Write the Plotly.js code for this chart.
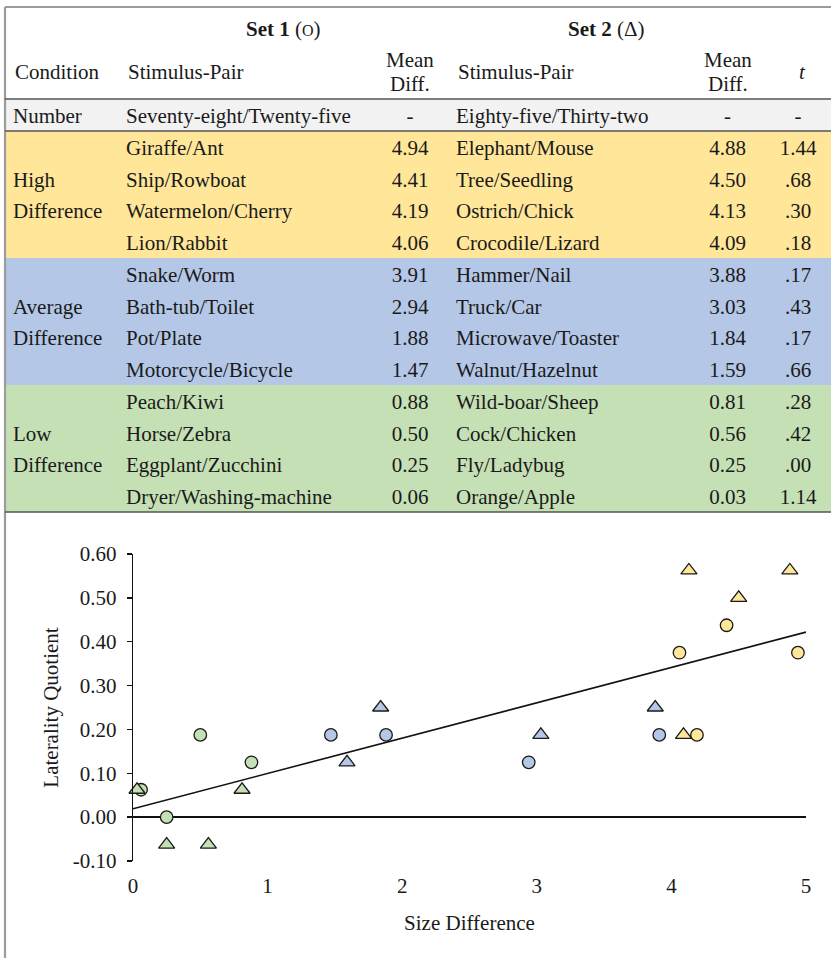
<!DOCTYPE html>
<html>
<head>
<meta charset="utf-8">
<script src="https://cdn.plot.ly/plotly-3.0.1.min.js"></script>
<style>
html, body { margin: 0; padding: 0; background: #ffffff; }
#chart { width: 831px; height: 958px; }
</style>
</head>
<body>
<div id="chart"></div>
<script>
// ---------------- data ----------------
const groupNames = ["High", "Average", "Low"];
const groupOfRow = [0, 0, 0, 0, 1, 1, 1, 1, 2, 2, 2, 2];
const conditionCol = ["", "High", "Difference", "", "", "Average", "Difference", "", "", "Low", "Difference", ""];
const columnHeaders = ["Condition", "Stimulus-Pair", "Mean Diff.", "Stimulus-Pair", "Mean Diff.", "t"];
const setHeaders = ["Set 1", "Set 2"];
const setSymbols = ["O", "\u0394"];
const numberRow = ["Number", "Seventy-eight/Twenty-five", "-", "Eighty-five/Thirty-two", "-", "-"];
const set1Pairs = ["Giraffe/Ant", "Ship/Rowboat", "Watermelon/Cherry", "Lion/Rabbit", "Snake/Worm", "Bath-tub/Toilet", "Pot/Plate", "Motorcycle/Bicycle", "Peach/Kiwi", "Horse/Zebra", "Eggplant/Zucchini", "Dryer/Washing-machine"];
const set1Diff = [4.94, 4.41, 4.19, 4.06, 3.91, 2.94, 1.88, 1.47, 0.88, 0.50, 0.25, 0.06];
const set2Pairs = ["Elephant/Mouse", "Tree/Seedling", "Ostrich/Chick", "Crocodile/Lizard", "Hammer/Nail", "Truck/Car", "Microwave/Toaster", "Walnut/Hazelnut", "Wild-boar/Sheep", "Cock/Chicken", "Fly/Ladybug", "Orange/Apple"];
const set2Diff = [4.88, 4.50, 4.13, 4.09, 3.88, 3.03, 1.84, 1.59, 0.81, 0.56, 0.25, 0.03];
const tValues = ["1.44", ".68", ".30", ".18", ".17", ".43", ".17", ".66", ".28", ".42", ".00", "1.14"];
const set1LQ = [0.375, 0.4375, 0.1875, 0.375, 0.1875, 0.125, 0.1875, 0.1875, 0.125, 0.1875, 0.0, 0.0625];
const set2LQ = [0.5625, 0.5, 0.5625, 0.1875, 0.25, 0.1875, 0.25, 0.125, 0.0625, -0.0625, -0.0625, 0.0625];
const trendX = [0, 5];
const trendY = [0.019, 0.422];
const xTickVals = [0, 1, 2, 3, 4, 5];
const yTickVals = [-0.1, 0, 0.1, 0.2, 0.3, 0.4, 0.5, 0.6];

// ---------------- styles ----------------
const W = 831, H = 958;
const FONT = "Liberation Serif, Times New Roman, serif";
const FS = 21;
const TXT = "#1a1a1a";
const groupColors = ["#FFE699", "#B4C7E7", "#C5E0B4"];
const numberFill = "#F2F2F2";
const px = x => x / W;
const py = y => 1 - y / H;

// column layout (pixels)
const colEdges = [5, 118, 372, 448, 690, 765, 831];
const colWidths = colEdges.slice(1).map((e, i) => e - colEdges[i]);
const colAlign = ["left", "left", "center", "left", "center", "center"];

const rowFill = groupOfRow.map(g => groupColors[g]);

const table = {
  type: "table",
  domain: { x: [px(5), 1], y: [py(516), py(99)] },
  columnwidth: colWidths,
  header: {
    values: numberRow.map(v => [v]),
    height: 32,
    align: colAlign,
    fill: { color: numberFill },
    line: { width: 0, color: "rgba(0,0,0,0)" },
    font: { family: FONT, size: FS, color: TXT }
  },
  cells: {
    values: [conditionCol, set1Pairs, set1Diff.map(v => v.toFixed(2)), set2Pairs, set2Diff.map(v => v.toFixed(2)), tValues],
    height: 31.75,
    align: colAlign,
    fill: { color: colWidths.map(() => rowFill) },
    line: { width: 0, color: "rgba(0,0,0,0)" },
    font: { family: FONT, size: FS, color: TXT }
  }
};

const colorsOf = () => groupOfRow.map(g => groupColors[g]);

const set1Trace = {
  type: "scatter", mode: "markers",
  x: set1Diff, y: set1LQ,
  xaxis: "x", yaxis: "y",
  cliponaxis: false,
  marker: { symbol: "circle", size: 12.5, color: colorsOf(), line: { color: "#1a1a1a", width: 1.3 } },
  hoverinfo: "skip"
};
const set2Trace = {
  type: "scatter", mode: "markers",
  x: set2Diff, y: set2LQ,
  xaxis: "x", yaxis: "y",
  cliponaxis: false,
  marker: { symbol: "triangle-up", size: 14, color: colorsOf(), line: { color: "#1a1a1a", width: 1.3 } },
  hoverinfo: "skip"
};
const trendTrace = {
  type: "scatter", mode: "lines",
  x: trendX, y: trendY,
  xaxis: "x", yaxis: "y",
  cliponaxis: false,
  line: { color: "#111111", width: 1.6 },
  hoverinfo: "skip"
};

// ---------------- header annotations ----------------
const annotations = [];
function addText(text, x, y, xanchor, extra) {
  annotations.push(Object.assign({
    text: text, xref: "paper", yref: "paper", x: px(x), y: py(y),
    xanchor: xanchor, yanchor: "middle", showarrow: false,
    font: { family: FONT, size: FS, color: TXT }
  }, extra || {}));
}
// spanning set headers
addText("<b>" + setHeaders[0] + "</b> (<span style='font-size:16px'>" + setSymbols[0] + "</span>)", (colEdges[1] + colEdges[3]) / 2, 29, "center");
addText("<b>" + setHeaders[1] + "</b> (" + setSymbols[1] + ")", (colEdges[3] + colEdges[5]) / 2, 29, "center");
// column headers
columnHeaders.forEach((h, i) => {
  const left = colEdges[i], right = colEdges[i + 1];
  if (colAlign[i] === "left") {
    addText(h, left + 8, 72, "left");
  } else if (h.indexOf(" ") > 0) {
    const parts = h.split(" ");
    const cx = (left + right) / 2;
    addText(parts[0], cx, 60, "center", { borderpad: 0 });
    addText(parts[1], cx, 84.5, "center", { borderpad: 0 });
  } else {
    addText("<i>" + h + "</i>", (left + right) / 2 + 4, 72, "center");
  }
});

// ---------------- rule lines ----------------
const shapes = [
  { type: "line", xref: "paper", yref: "paper", x0: px(5), x1: 1, y0: py(7), y1: py(7), line: { color: "#9c9c9c", width: 2.2 } },
  { type: "line", xref: "paper", yref: "paper", x0: px(5), x1: px(5), y0: 0, y1: py(7), line: { color: "#9c9c9c", width: 2.2 } },
  { type: "line", xref: "paper", yref: "paper", x0: px(5), x1: 1, y0: py(99), y1: py(99), line: { color: "#555555", width: 1.5 } },
  { type: "line", xref: "paper", yref: "paper", x0: px(5), x1: 1, y0: py(131), y1: py(131), line: { color: "#555555", width: 1.5 } },
  { type: "line", xref: "paper", yref: "paper", x0: px(5), x1: 1, y0: py(512), y1: py(512), line: { color: "#555555", width: 1.5 } }
];

const layout = {
  width: W, height: H,
  margin: { l: 0, r: 0, t: 0, b: 0 },
  paper_bgcolor: "#ffffff", plot_bgcolor: "#ffffff",
  showlegend: false,
  font: { family: FONT, size: FS, color: TXT },
  xaxis: {
    domain: [px(133), px(806)],
    range: [0, 5],
    tickvals: xTickVals,
    ticktext: xTickVals.map(String),
    ticks: "",
    showline: false, showgrid: false, zeroline: false,
    ticklabelstandoff: 10,
    tickfont: { family: FONT, size: FS, color: TXT },
    title: { text: "Size Difference", font: { family: FONT, size: FS, color: TXT }, standoff: 18 },
    fixedrange: true
  },
  yaxis: {
    domain: [py(861), py(554)],
    range: [-0.1, 0.6],
    tickvals: yTickVals,
    ticktext: yTickVals.map(v => v.toFixed(2)),
    ticks: "outside", ticklen: 5, tickwidth: 1.3, tickcolor: "#111111",
    showline: true, linecolor: "#111111", linewidth: 1.3,
    showgrid: false,
    zeroline: true, zerolinecolor: "#111111", zerolinewidth: 1.3,
    ticklabelstandoff: 6,
    tickfont: { family: FONT, size: FS, color: TXT },
    title: { text: "Laterality Quotient", font: { family: FONT, size: FS, color: TXT }, standoff: 8 },
    fixedrange: true
  },
  annotations: annotations,
  shapes: shapes
};

Plotly.newPlot("chart", [table, trendTrace, set1Trace, set2Trace], layout, { staticPlot: true, displayModeBar: false });
</script>
</body>
</html>
